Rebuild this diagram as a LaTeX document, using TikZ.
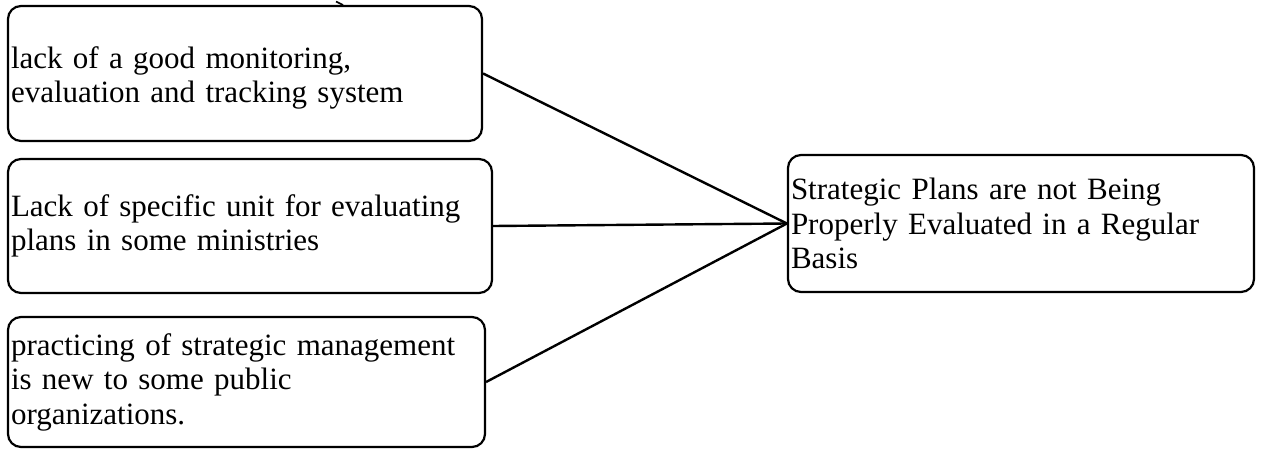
\documentclass[tikz,border=0pt]{standalone}
\usepackage{fontspec}
\setmainfont{Liberation Serif}
\begin{document}
\begin{tikzpicture}[x=1pt,y=-1pt,
  box/.style={draw, line width=2.2pt, rounded corners=13pt, inner xsep=3pt, inner ysep=0pt,
    align=left, font=\fontsize{31}{34.5}\selectfont},
  link/.style={draw, line width=2.4pt}]
  \useasboundingbox (0,0) rectangle (1262,449);
  % cause boxes on the left
  \node[box, minimum width=474pt, minimum height=135pt, text width=468pt] (b1) at (245,73.5)
    {\rule{0pt}{31pt}lack of a good monitoring,\\evaluation and tracking system};
  \node[box, minimum width=484pt, minimum height=134pt, text width=478pt] (b2) at (250,226)
    {Lack of specific unit for evaluating\\plans in some ministries};
  \node[box, minimum width=477pt, minimum height=130pt, text width=471pt] (b3) at (246.5,382)
    {practicing of strategic management\\is new to some public\\organizations.};
  % effect box on the right
  \node[box, minimum width=466pt, minimum height=137pt, text width=460pt] (b4) at (1021,223.5)
    {Strategic Plans are not Being\\Properly Evaluated in a Regular\\Basis};
  % connectors
  \draw[link] (b1.east) -- (b4.west);
  \draw[link] (b2.east) -- (b4.west);
  \draw[link] (b3.east) -- (b4.west);
  % small tick above the first box
  \draw[line width=1.6pt] (336,1.5) -- (343,5);
\end{tikzpicture}
\end{document}
